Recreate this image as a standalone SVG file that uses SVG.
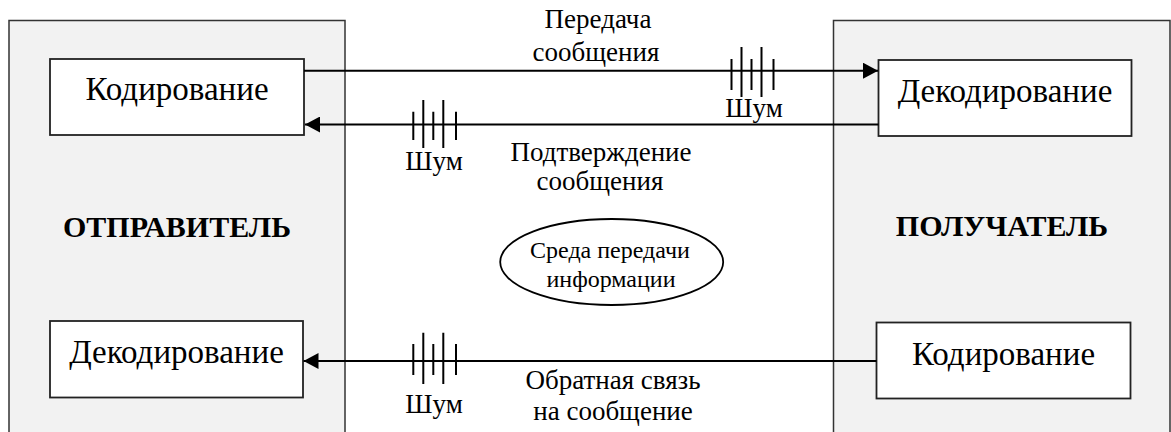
<svg xmlns="http://www.w3.org/2000/svg" width="1171" height="432" viewBox="0 0 1171 432">
<style>
.panel{fill:#f2f2f2;stroke:#333;stroke-width:1.5}
.box{fill:#fff;stroke:#222;stroke-width:1.8}
.conn{stroke:#000;stroke-width:2;fill:none}
.noise{stroke:#000;stroke-width:2;fill:none}
.t{font-family:"Liberation Serif","Times New Roman",serif;fill:#000;text-anchor:middle}
.bt{font-size:33px}
.lt{font-size:27px}
.et{font-size:24px}
.hd{font-size:30px;font-weight:bold}
</style>
<defs>
<marker id="arr" markerWidth="16" markerHeight="16" refX="15" refY="8" orient="auto" markerUnits="userSpaceOnUse">
<path d="M0,0 L15,8 L0,16 Z" fill="#000"/>
</marker>
</defs>
<rect width="1171" height="432" fill="#fff"/>
<g id="sender">
<rect class="panel" x="9" y="20.5" width="336" height="420"/>
<text class="t hd" x="177" y="237">ОТПРАВИТЕЛЬ</text>
</g>
<g id="receiver">
<rect class="panel" x="833.5" y="20.5" width="336.5" height="420"/>
<text class="t hd" x="1002" y="236">ПОЛУЧАТЕЛЬ</text>
</g>
<g id="s-encode">
<rect class="box" x="50" y="59" width="254" height="76"/>
<text class="t bt" x="177" y="100">Кодирование</text>
</g>
<g id="s-decode">
<rect class="box" x="50" y="321" width="253" height="76.5"/>
<text class="t bt" x="176.5" y="363">Декодирование</text>
</g>
<g id="r-decode">
<rect class="box" x="878.5" y="60" width="253" height="76"/>
<text class="t bt" x="1005" y="101.5">Декодирование</text>
</g>
<g id="r-encode">
<rect class="box" x="876.5" y="322.5" width="254" height="76"/>
<text class="t bt" x="1003.5" y="365">Кодирование</text>
</g>
<g id="medium">
<ellipse cx="611.7" cy="262" rx="111.5" ry="43" fill="#fff" stroke="#000" stroke-width="1.8"/>
<text class="t et" x="610" y="258">Среда передачи</text>
<text class="t et" x="611" y="286.5">информации</text>
</g>
<g id="connectors">
<line class="conn" x1="304" y1="70.7" x2="878" y2="70.7" marker-end="url(#arr)"/>
<line class="conn" x1="878.5" y1="124.5" x2="305" y2="124.5" marker-end="url(#arr)"/>
<line class="conn" x1="876.5" y1="361" x2="303.5" y2="361" marker-end="url(#arr)"/>
</g>
<g id="noise1">
<path class="noise" d="M731.5,59V90 M741.5,47V97 M751.5,59V90 M761.5,47V97 M773.5,59V90"/>
<text class="t lt" x="754" y="117">Шум</text>
</g>
<g id="noise2">
<path class="noise" d="M413.3,111.7V140 M423.3,100V148 M433.3,111.7V140 M443.3,100V148 M456,111.7V140"/>
<text class="t lt" x="434" y="170">Шум</text>
</g>
<g id="noise3">
<path class="noise" d="M413.3,344V375 M423.3,332.7V384 M433.3,344V375 M443.3,332.7V384 M456,344V375"/>
<text class="t lt" x="434" y="413">Шум</text>
</g>
<g id="labels">
<text class="t lt" x="598" y="28">Передача</text>
<text class="t lt" x="596" y="61">сообщения</text>
<text class="t lt" x="601" y="161">Подтверждение</text>
<text class="t lt" x="600" y="190">сообщения</text>
<text class="t lt" x="613" y="389">Обратная связь</text>
<text class="t lt" x="613" y="420">на сообщение</text>
</g>
</svg>
